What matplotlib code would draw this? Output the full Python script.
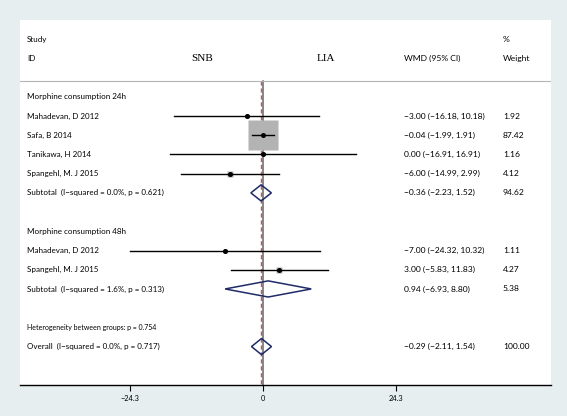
import matplotlib.pyplot as plt
from matplotlib.patches import Polygon
import numpy as np

# study rows
studies = ["Mahadevan, D 2012", "Safa, B 2014", "Tanikawa, H 2014", "Spangehl, M. J 2015",
           "Mahadevan, D 2012", "Spangehl, M. J 2015"]
study_rows = [1, 2, 3, 4, 8, 9]
est = [-3.00, -0.04, 0.00, -6.00, -7.00, 3.00]
lo = [-16.18, -1.99, -16.91, -14.99, -24.32, -5.83]
hi = [10.18, 1.91, 16.91, 2.99, 10.32, 11.83]
weight = [1.92, 87.42, 1.16, 4.12, 1.11, 4.27]

# pooled rows (subtotals + overall)
pooled_labels = ["Subtotal  (I\u2212squared = 0.0%, p = 0.621)",
                 "Subtotal  (I\u2212squared = 1.6%, p = 0.313)",
                 "Overall  (I\u2212squared = 0.0%, p = 0.717)"]
pooled_rows = [5, 10, 13]
pooled_est = [-0.36, 0.94, -0.29]
pooled_lo = [-2.23, -6.93, -2.11]
pooled_hi = [1.52, 8.80, 1.54]
pooled_w = ["94.62", "5.38", "100.00"]

groups = ["Morphine consumption 24h", "Morphine consumption 48h"]
group_rows = [0, 7]

xticks = [-24.3, 0, 24.3]
xticklabels = ["\u221224.3", "0", "24.3"]

plt.rcParams["font.family"] = ["Lato", "DejaVu Sans"]

fig = plt.figure(figsize=(5.67, 4.16), dpi=100)
fig.patch.set_facecolor("#e7eef0")
ax = fig.add_axes([20/567, 31/416, 531/567, 365/416])
ax.set_facecolor("white")
ax.set_xlim(-44.4, 52.6)
ax.set_ylim(15, -4)
for s in ["top", "left", "right"]:
    ax.spines[s].set_visible(False)
ax.spines["bottom"].set_linewidth(1.0)
ax.set_yticks([])
ax.set_xticks(xticks)
ax.set_xticklabels(xticklabels, fontsize=5.3)
ax.tick_params(axis="x", length=4, width=0.8, pad=3)

fs = 5.8    # label column
fn = 6.1    # numeric columns
tr = ax.get_yaxis_transform()  # x in axes fraction, y in data
lx = 7/531
wx = 384/531
px = 483/531

# header
ax.text(lx, -3, "Study", transform=tr, fontsize=fs, va="center")
ax.text(lx, -2, "ID", transform=tr, fontsize=fs, va="center")
ax.text(px, -3, "%", transform=tr, fontsize=fn, va="center")
ax.text(px, -2, "Weight", transform=tr, fontsize=fn, va="center")
ax.text(wx, -2, "WMD (95% CI)", transform=tr, fontsize=fn, va="center")
ax.text(-11.2, -2, "SNB", fontsize=8, va="center", ha="center", family="Liberation Serif")
ax.text(11.5, -2, "LIA", fontsize=8, va="center", ha="center", family="Liberation Serif")
ax.axhline(-0.8, color="#b5b5b5", lw=0.8)

# reference lines
ax.plot([0, 0], [-0.8, 15], color="#666666", lw=1.1, zorder=1)
ax.plot([pooled_est[2]] * 2, [-0.8, 15], color="#c05a5a", lw=1.0, ls=(0, (3, 2)), zorder=1.5)

for g, r in zip(groups, group_rows):
    ax.text(lx, r, g, transform=tr, fontsize=fs, va="center")

for name, r, e, l, h, w in zip(studies, study_rows, est, lo, hi, weight):
    ax.plot(e, r, marker="s", ms=21.6 * np.sqrt(w / 87.42), color="#b3b3b3", mec="none", zorder=2)
    ax.plot([l, h], [r, r], color="black", lw=1.0, zorder=3)
    ax.plot(e, r, marker="o", ms=2.6, color="black", zorder=4)
    ax.text(lx, r, name, transform=tr, fontsize=fs, va="center")
    ax.text(wx, r, f"{e:.2f} ({l:.2f}, {h:.2f})".replace("-", "\u2212"),
            transform=tr, fontsize=fn, va="center")
    ax.text(px, r, f"{w:.2f}", transform=tr, fontsize=fn, va="center")

for name, r, e, l, h, w in zip(pooled_labels, pooled_rows, pooled_est, pooled_lo, pooled_hi, pooled_w):
    d = 0.42
    ax.add_patch(Polygon([(l, r), (e, r - d), (h, r), (e, r + d)], closed=True,
                         fill=False, ec="#1f2a66", lw=1.1, zorder=3))
    ax.text(lx, r, name, transform=tr, fontsize=fs, va="center")
    ax.text(wx, r, f"{e:.2f} ({l:.2f}, {h:.2f})".replace("-", "\u2212"),
            transform=tr, fontsize=fn, va="center")
    ax.text(px, r, w, transform=tr, fontsize=fn, va="center")

ax.text(lx, 12, "Heterogeneity between groups: p = 0.754", transform=tr, fontsize=5.0, va="center")

fig.savefig("out.png", dpi=100, facecolor=fig.get_facecolor())
